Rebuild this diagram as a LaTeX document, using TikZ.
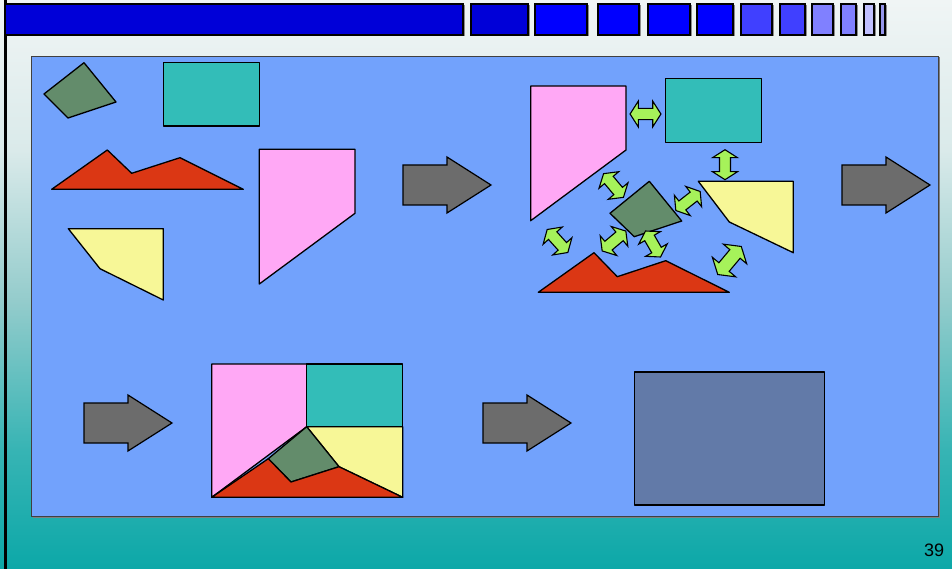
\documentclass[tikz,border=0pt]{standalone}
\usepackage{fontspec}
\setmainfont{Liberation Sans}
\definecolor{bgblue}{RGB}{114,162,252}
\definecolor{pinkc}{RGB}{255,168,245}
\definecolor{tealc}{RGB}{51,189,184}
\definecolor{greenc}{RGB}{99,140,107}
\definecolor{redc}{RGB}{219,55,20}
\definecolor{yellowc}{RGB}{247,247,151}
\definecolor{arrowgray}{RGB}{108,108,108}
\definecolor{limec}{RGB}{166,242,90}
\definecolor{finalc}{RGB}{98,122,168}
\definecolor{barA}{RGB}{0,0,216}
\definecolor{barB}{RGB}{0,0,255}
\definecolor{barC}{RGB}{64,64,255}
\definecolor{barD}{RGB}{128,128,255}
\definecolor{barE}{RGB}{192,192,255}
\definecolor{barF}{RGB}{150,150,235}
\pgfdeclareverticalshading{pageshade}{100bp}{%
  color(0bp)=(rgb,255:red,12;green,168;blue,168);
  color(25bp)=(rgb,255:red,12;green,168;blue,168);
  color(35.5bp)=(rgb,255:red,55;green,180;blue,180);
  color(48.6bp)=(rgb,255:red,148;green,204;blue,204);
  color(61.8bp)=(rgb,255:red,218;green,234;blue,234);
  color(75bp)=(rgb,255:red,240;green,245;blue,245);
  color(100bp)=(rgb,255:red,240;green,245;blue,245)}
\tikzset{
  piece/.style={draw=black, line width=1.3pt, line join=round},
  barbox/.style={draw=black, line width=1.4pt},
  garrow/.style={draw=black, line width=1.2pt, fill=arrowgray, line join=miter},
  dblarrow/.style={draw=black, line width=1.1pt, fill=limec, line join=miter}
}
\newcommand\mkdbl[4]{\draw[dblarrow, shift={(#1,#2)}, rotate=#3, scale=#4]
  (-15,0) -- (-7,-12.5) -- (-7,-5.5) -- (7,-5.5) -- (7,-12.5) -- (15,0)
  -- (7,12.5) -- (7,5.5) -- (-7,5.5) -- (-7,12.5) -- cycle;}
\newcommand\mkblock[2]{\draw[garrow, shift={(#1,#2)}]
  (0,-20) -- (44,-20) -- (44,-28) -- (88,0) -- (44,28) -- (44,20) -- (0,20) -- cycle;}
\newcommand\mkbar[3]{\fill[black!45] (#1+1.5,5.5) rectangle (#2+1.5,36.5);
  \draw[barbox, fill=#3] (#1,4) rectangle (#2,35);}
\begin{document}
\begin{tikzpicture}[x=1pt,y=-1pt]
\useasboundingbox (0,0) rectangle (952,569);
% page background
\shade[shading=pageshade] (0,0) rectangle (952,569);
\fill[black] (4,0) rectangle (7,569);
% title bar
\mkbar{5}{463}{barA}
\mkbar{471}{528}{barA}
\mkbar{535}{587}{barB}
\mkbar{598}{639}{barB}
\mkbar{648}{690}{barB}
\mkbar{697}{733}{barB}
\mkbar{741}{772}{barC}
\mkbar{780}{805}{barC}
\mkbar{812}{833}{barD}
\mkbar{841}{856}{barD}
\mkbar{864}{874}{barE}
\mkbar{880}{885}{barF}
% main panel
\fill[black!50] (32.5,57.5) rectangle (939.5,517.5);
\draw[draw=black!75, line width=0.9pt, fill=bgblue] (31,56) rectangle (938,516);
% loose pieces
\draw[piece, fill=greenc] (84,62.7) -- (116,102) -- (68,118) -- (44,94) -- cycle;
\draw[piece, fill=tealc] (163.3,62.7) rectangle (259.3,126);
\draw[piece, fill=redc] (51.7,189.3) -- (107.3,150) -- (131.7,173.3) -- (180,157.7) -- (243.3,189.3) -- cycle;
\draw[piece, fill=pinkc] (259.3,149.3) -- (355,149.3) -- (355,213.3) -- (259.3,284) -- cycle;
\draw[piece, fill=yellowc] (68.3,228.7) -- (163.3,228.7) -- (163.3,300) -- (100,268.7) -- cycle;
% arrows
\mkblock{403}{185}
\mkblock{842}{185}
\mkblock{84}{423}
\mkblock{483}{423}
% pieces being fitted
\draw[piece, fill=pinkc] (530.7,86) -- (626,86) -- (626,150) -- (530.7,220.7) -- cycle;
\draw[piece, fill=tealc] (665.7,78.7) rectangle (761.7,142.3);
\draw[piece, fill=yellowc] (698.3,181.3) -- (793.3,181.3) -- (793.3,252.7) -- (729.3,222) -- cycle;
\draw[piece, fill=greenc] (649.3,181.3) -- (681.7,221) -- (634.3,236.7) -- (610,213.3) -- cycle;
\draw[piece, fill=redc] (538.3,292.3) -- (594,252.7) -- (617.3,276.7) -- (665.7,260.7) -- (729.3,292.3) -- cycle;
% double arrows
\mkdbl{645.5}{114}{0}{1.03}
\mkdbl{725}{164.7}{-90}{1}
\mkdbl{613.5}{185.5}{-50}{1.03}
\mkdbl{688}{201}{38}{1.03}
\mkdbl{614}{241}{40}{1.03}
\mkdbl{653}{244}{-60}{1}
\mkdbl{557.5}{241}{-48}{1.03}
\mkdbl{729.5}{260.5}{50}{1.22}
% assembled rectangle
\draw[piece, fill=pinkc] (211.7,364) -- (306.7,364) -- (306.7,426.7) -- (211.7,497.3) -- cycle;
\draw[piece, fill=tealc] (306.7,364) rectangle (402.7,426.7);
\draw[piece, fill=yellowc] (306.7,426.7) -- (402.7,426.7) -- (402.7,497.3) -- (339,466.7) -- cycle;
\draw[piece, fill=greenc] (306.7,426.7) -- (339,466.7) -- (291,482) -- (268.3,458.7) -- cycle;
\draw[piece, fill=redc] (211.7,497.3) -- (268.3,458.7) -- (291,482) -- (339,466.7) -- (402.7,497.3) -- cycle;
% final rectangle
\draw[piece, fill=finalc] (634.5,372) rectangle (824.5,505);
% page number
\node[font=\fontsize{18}{18}\selectfont, text=black, inner sep=0pt] (pnum) at (934,550) {39};
\end{tikzpicture}
\end{document}
